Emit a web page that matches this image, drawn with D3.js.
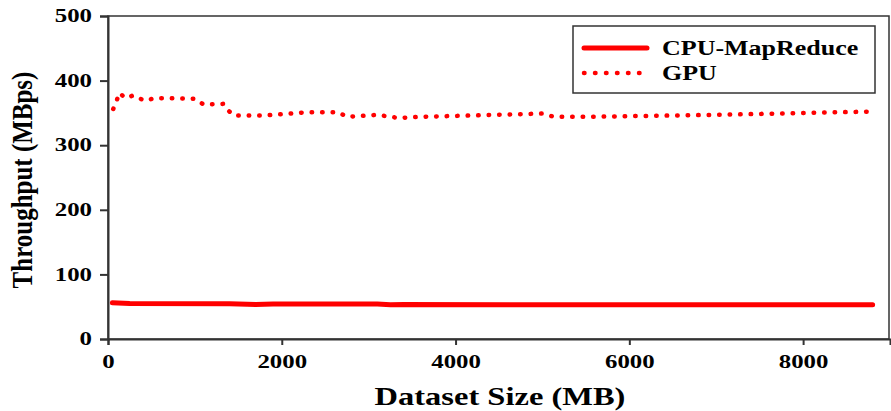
<!DOCTYPE html>
<html>
<head>
<meta charset="utf-8">
<script src="https://cdn.jsdelivr.net/npm/d3@7"></script>
<style>
  body { margin: 0; background: #fff; }
  svg { display: block; }
  text { font-family: "Liberation Serif", "Times New Roman", serif; font-weight: bold; fill: #000; }
</style>
</head>
<body>
<svg id="chart" width="891" height="411"></svg>
<script>
// dataset size in MB
var cpuSize = [50, 250, 1400, 1700, 1900, 3100, 3250, 3400, 5000, 8800];
var cpuThroughput = [56, 55, 54.5, 53.5, 54, 54, 53, 53.5, 53, 53];

var gpuSize = [60, 100, 130, 200, 290, 420, 550, 1000, 1100, 1330, 1390, 1450, 1800, 2000, 2300, 2650, 2750, 3000, 3100, 3350, 3600, 4200, 5000, 5130, 5550, 7000, 8750];
var gpuThroughput = [356, 369, 381, 373, 377, 369, 373, 372, 363, 364, 353, 346, 346, 348, 351, 351, 344, 346, 347, 342, 344, 346, 349, 344, 344, 347, 352];

var xTicks = [0, 2000, 4000, 6000, 8000];
var yTicks = [0, 100, 200, 300, 400, 500];
var seriesNames = ["CPU-MapReduce", "GPU"];

var svg = d3.select("#chart");
var plotLeft = 108, plotRight = 889, plotTop = 16, plotBottom = 339;
var stretch = 1.38; // the original figure is stretched sideways

var x = d3.scaleLinear().domain([0, 9000]).range([plotLeft, plotRight + 1]);
var y = d3.scaleLinear().domain([0, 500]).range([plotBottom, plotTop]);

// frame
svg.append("rect")
  .attr("x", plotLeft).attr("y", plotTop)
  .attr("width", plotRight - plotLeft).attr("height", plotBottom - plotTop)
  .attr("fill", "none").attr("stroke", "#333").attr("stroke-width", 1.5);

var xAxis = svg.append("g")
  .attr("transform", "translate(0," + plotBottom + ")")
  .call(d3.axisBottom(x).tickValues(xTicks).tickFormat(d3.format("d")).tickSize(6).tickPadding(10));
xAxis.selectAll("text")
  .style("font-size", "18px")
  .attr("transform", "scale(" + stretch + ",1)");

var yAxis = svg.append("g")
  .attr("transform", "translate(" + plotLeft + ",0)")
  .call(d3.axisLeft(y).tickValues(yTicks).tickSize(8));
yAxis.selectAll("text")
  .style("font-size", "18px")
  .attr("x", -16 / stretch)
  .attr("transform", "scale(" + stretch + ",1)");

svg.selectAll(".domain, .tick line").attr("stroke", "#333").attr("stroke-width", 2);

// lines
var cpuData = cpuSize.map(function(d, i){ return [d, cpuThroughput[i]]; });
var gpuData = gpuSize.map(function(d, i){ return [d, gpuThroughput[i]]; });

var line = d3.line()
  .x(function(d){ return x(d[0]); })
  .y(function(d){ return y(d[1]); });

svg.append("path")
  .datum(cpuData)
  .attr("d", line)
  .attr("fill", "none")
  .attr("stroke", "#ff0000")
  .attr("stroke-width", 5)
  .attr("stroke-linecap", "round");

svg.append("path")
  .datum(gpuData)
  .attr("d", line)
  .attr("fill", "none")
  .attr("stroke", "#ff0000")
  .attr("stroke-width", 4.5)
  .attr("stroke-linecap", "round")
  .attr("stroke-dasharray", "0.5,10");

// axis titles
svg.append("text")
  .attr("transform", "translate(500,405) scale(1.3,1)")
  .attr("text-anchor", "middle")
  .style("font-size", "25px")
  .text("Dataset Size (MB)");

svg.append("text")
  .attr("transform", "translate(32,180) rotate(-90) scale(1,1.18)")
  .attr("text-anchor", "middle")
  .style("font-size", "25px")
  .text("Throughput (MBps)");

// legend
var legend = svg.append("g");
legend.append("rect")
  .attr("x", 573).attr("y", 26)
  .attr("width", 302).attr("height", 67)
  .attr("fill", "#fff").attr("stroke", "#333").attr("stroke-width", 1.5);

legend.append("line")
  .attr("x1", 584).attr("x2", 647).attr("y1", 48).attr("y2", 48)
  .attr("stroke", "#ff0000").attr("stroke-width", 5).attr("stroke-linecap", "round");
legend.append("line")
  .attr("x1", 584).attr("x2", 648).attr("y1", 73).attr("y2", 73)
  .attr("stroke", "#ff0000").attr("stroke-width", 4.5).attr("stroke-linecap", "round")
  .attr("stroke-dasharray", "0.5,10.5");

legend.selectAll("text.lbl")
  .data(seriesNames)
  .enter().append("text")
  .attr("class", "lbl")
  .attr("transform", function(d, i){ return "translate(662," + (55 + i * 25) + ") scale(1.3,1)"; })
  .style("font-size", "20px")
  .text(function(d){ return d; });
</script>
</body>
</html>
